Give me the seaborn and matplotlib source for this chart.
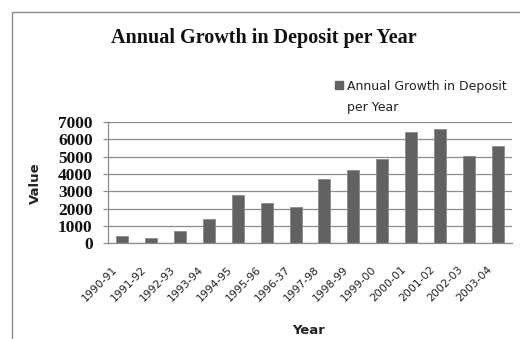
import matplotlib
matplotlib.use("Agg")
import matplotlib.pyplot as plt
import seaborn as sns
import pandas as pd
from matplotlib.patches import Rectangle, Patch
from matplotlib.legend_handler import HandlerPatch
from matplotlib.transforms import ScaledTranslation

years = ["1990-91", "1991-92", "1992-93", "1993-94", "1994-95", "1995-96", "1996-37",
         "1997-98", "1998-99", "1999-00", "2000-01", "2001-02", "2002-03", "2003-04"]
growth = [450, 280, 690, 1390, 2800, 2330, 2100, 3700, 4210, 4860, 6400, 6580, 5020, 5630]
series_name = "Annual Growth in Deposit\nper Year"
yticks = [0, 1000, 2000, 3000, 4000, 5000, 6000, 7000]

df = pd.DataFrame({"Year": years, "Value": growth})

sns.set_theme(style="white")
W, H = 520, 339
fig = plt.figure(figsize=(W / 100, H / 100), dpi=100)
ax = fig.add_axes([108 / W, 1 - 243.3 / H, 404 / W, (243.3 - 122) / H])

bar_color = "#626262"
sns.barplot(data=df, x="Year", y="Value", color=bar_color, width=0.42, ax=ax,
            saturation=1, edgecolor="#8a8a8a", linewidth=0.6)

ax.set_ylim(0, 7000)
ax.set_xlim(-0.5, len(years) - 0.5)
ax.set_yticks(yticks)
ax.set_yticklabels([str(t) for t in yticks], fontfamily="Liberation Serif",
                   fontweight="bold", fontsize=12.5, color="#111111")
ax.yaxis.grid(True, color="#8c8c8c", linewidth=0.9)
ax.set_axisbelow(True)
for s in ["top", "right"]:
    ax.spines[s].set_visible(False)
for s in ["left", "bottom"]:
    ax.spines[s].set_color("#8c8c8c")
    ax.spines[s].set_linewidth(0.9)
ax.tick_params(axis="y", which="major", left=True, length=3.6, width=0.9, color="#8c8c8c", pad=7.5)
ax.tick_params(axis="x", bottom=False, length=0, pad=17.5)

ax.set_xticks(range(len(years)))
ax.set_xticklabels(years, rotation=45, ha="right", va="center", rotation_mode="anchor",
                   fontfamily="DejaVu Sans", fontsize=7.8, color="#222222")
shift = ScaledTranslation(-7 / 100, 0, fig.dpi_scale_trans)
for lbl in ax.get_xticklabels():
    lbl.set_transform(lbl.get_transform() + shift)

ax.set_ylabel("")
ax.set_xlabel("")
fig.text(35 / W, 1 - 183 / H, "Value", rotation=90, ha="center", va="center",
         fontfamily="DejaVu Sans", fontweight="bold", fontsize=9.5, color="#222222")
fig.text(309 / W, 1 - 331 / H, "Year", ha="center", va="center",
         fontfamily="DejaVu Sans", fontweight="bold", fontsize=9.5, color="#222222")

fig.text(264 / W, 1 - 38 / H, "Annual Growth in Deposit per Year", ha="center", va="center",
         fontfamily="Liberation Serif", fontweight="bold", fontsize=14.5, color="#111111")


def top_square(legend, orig_handle, xdescent, ydescent, width, height, fontsize):
    return Rectangle((-xdescent, -ydescent + 9.5), width, height)


handles = [Patch(facecolor=bar_color, edgecolor=bar_color)]
leg = fig.legend(handles, [series_name], loc="upper left", bbox_to_anchor=(329 / W, 1 - 74 / H),
                 frameon=False, prop={"family": "DejaVu Sans", "size": 9},
                 handlelength=0.6, handleheight=0.6, handletextpad=0.32, borderpad=0,
                 labelspacing=0.2,
                 handler_map={Patch: HandlerPatch(patch_func=top_square)})
for t in leg.get_texts():
    t.set_linespacing(1.8)
    t.set_color("#222222")

fig.patches.append(Rectangle((12 / W, -0.1), 1.2, 1 - 12 / H + 0.1, transform=fig.transFigure,
                             fill=False, edgecolor="#8c8c8c", linewidth=1.0))

fig.savefig("out.png", dpi=100, facecolor="white")
